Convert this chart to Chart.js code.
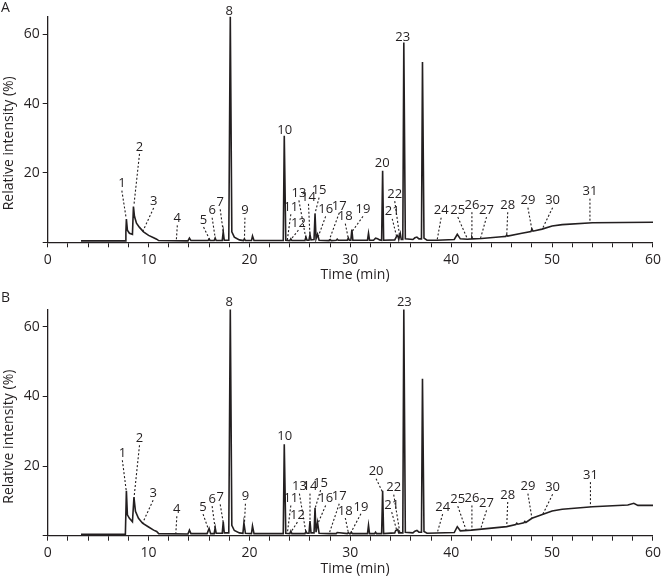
<!DOCTYPE html>
<html><head><meta charset="utf-8">
<script src="https://cdn.jsdelivr.net/npm/chart.js@4"></script>
<style>
html,body{margin:0;padding:0;background:#fff;}
#wrap{position:relative;width:665px;height:578px;overflow:hidden;}
canvas{position:absolute;left:0;}
</style></head><body>
<div id="wrap">
<canvas id="cA" width="665" height="285" style="top:0"></canvas>
<canvas id="cB" width="665" height="293" style="top:285px"></canvas>
</div>
<script>
// ---------- data (time in min, relative intensity in %) ----------
const timeA = [3.3, 7.7, 7.75, 7.8, 7.9, 8.1, 8.4, 8.5, 8.6, 8.8,
  9.1, 9.5, 10.0, 10.5, 10.8, 11.0, 13.9, 14.05, 14.2, 15.9,
  16.0, 16.1, 16.5, 16.6, 16.7, 17.3, 17.4, 17.5, 17.95, 18.1,
  18.25, 18.5, 19.0, 19.4, 19.5, 19.6, 20.2, 20.3, 20.45, 23.35,
  23.45, 23.6, 24.0, 24.1, 24.2, 25.5, 25.6, 25.7, 25.9, 26.0,
  26.1, 26.4, 26.5, 26.6, 26.75, 26.9, 27.9, 28.0, 28.1, 28.6,
  28.7, 28.8, 29.7, 29.8, 29.9, 30.05, 30.15, 30.25, 31.7, 31.8,
  31.9, 32.3, 32.5, 32.7, 32.9, 33.1, 33.2, 33.3, 34.4, 34.6,
  34.7, 34.8, 34.95, 35.05, 35.2, 35.3, 35.45, 36.2, 36.4, 36.6,
  36.8, 37.05, 37.15, 37.3, 37.6, 38.6, 40.3, 40.6, 40.9, 41.6,
  42.0, 42.05, 42.1, 43.0, 45.0, 45.4, 45.5, 45.6, 47.0, 47.9,
  48.0, 48.1, 49.0, 50.0, 51.0, 54.0, 60.0];
const signalA = [0.4, 0.4, 3.0, 6.7, 3.5, 2.6, 2.3, 10.3, 7.5, 5.5,
  4.3, 3.0, 2.0, 1.3, 0.9, 0.5, 0.4, 1.2, 0.5, 0.5,
  0.9, 0.5, 0.5, 1.2, 0.5, 0.5, 3.0, 0.6, 0.6, 65,
  3.0, 1.5, 0.7, 0.5, 1.0, 0.5, 0.5, 1.8, 0.5, 0.5,
  30.7, 0.6, 0.5, 1.0, 0.5, 0.5, 1.5, 0.6, 0.6, 2.2,
  0.7, 0.8, 8.3, 1.0, 2.3, 0.6, 0.5, 0.8, 0.5, 0.6,
  0.9, 0.6, 0.6, 1.2, 0.6, 0.6, 3.7, 0.6, 0.6, 2.6,
  0.6, 0.6, 1.2, 1.0, 0.7, 0.6, 20.6, 0.6, 0.7, 1.8,
  2.0, 0.8, 2.5, 0.8, 0.8, 57.6, 1.0, 0.8, 1.3, 1.5,
  1.0, 1.0, 52, 1.2, 0.6, 0.6, 0.8, 2.3, 1.0, 0.9,
  1.0, 1.4, 1.0, 1.1, 1.6, 1.7, 2.1, 1.8, 2.6, 3.1,
  3.8, 3.2, 3.8, 4.7, 5.1, 5.65, 5.8];

const timeB = [3.3, 7.7, 7.8, 7.9, 8.1, 8.4, 8.55, 8.7, 9.0, 9.4,
  10.0, 10.5, 10.8, 11.0, 13.9, 14.05, 14.2, 15.8, 16.0, 16.15,
  16.5, 16.6, 16.7, 17.3, 17.4, 17.5, 17.95, 18.1, 18.25, 18.5,
  19.0, 19.35, 19.45, 19.6, 20.2, 20.3, 20.45, 23.35, 23.45, 23.6,
  24.0, 24.1, 24.2, 25.5, 25.6, 25.7, 25.9, 26.0, 26.1, 26.4,
  26.5, 26.6, 26.75, 26.9, 27.9, 28.6, 28.7, 29.7, 29.8, 29.9,
  30.0, 30.1, 30.2, 31.7, 31.8, 31.9, 32.4, 32.5, 32.6, 33.1,
  33.2, 33.3, 34.4, 34.5, 34.7, 34.8, 35.2, 35.3, 35.45, 36.2,
  36.4, 36.6, 36.8, 37.05, 37.15, 37.3, 37.6, 40.3, 40.6, 40.9,
  42.0, 45.5, 46.4, 46.5, 46.6, 47.2, 47.3, 47.4, 48.0, 50.0,
  51.0, 54.0, 57.5, 58.1, 58.5, 60.0];
const signalB = [0.4, 0.4, 12.9, 6.0, 5.0, 4.0, 11.0, 7.0, 5.0, 3.6,
  2.5, 1.6, 1.2, 0.6, 0.5, 1.6, 0.6, 0.6, 2.1, 0.6,
  0.6, 2.3, 0.7, 0.7, 4.0, 0.8, 0.8, 65, 3.0, 1.5,
  0.8, 0.7, 3.7, 0.7, 0.6, 2.8, 0.6, 0.6, 26.3, 0.7,
  0.6, 1.3, 0.6, 0.6, 1.2, 0.7, 0.7, 4.2, 0.8, 0.8,
  8.0, 1.0, 3.8, 0.7, 0.6, 0.6, 0.9, 0.6, 0.9, 0.6,
  0.6, 1.0, 0.6, 0.6, 3.0, 0.6, 0.6, 1.0, 0.6, 0.6,
  12.9, 0.6, 0.8, 1.5, 1.8, 0.8, 0.8, 65, 1.0, 0.8,
  1.3, 1.5, 1.0, 1.0, 45.1, 1.2, 0.7, 0.9, 2.6, 1.4,
  1.6, 2.6, 3.2, 3.6, 3.3, 3.7, 4.1, 3.8, 5.0, 7.1,
  7.6, 8.3, 8.8, 9.3, 8.7, 8.7];

// peak numbering and label anchors (label at labelTime/labelLevel, leader to tipTime/tipLevel)
const peakNumbers = [1,2,3,4,5,6,7,8,9,10,11,12,13,14,15,16,17,18,19,20,21,22,23,24,25,26,27,28,29,30,31];
const labelTimeA  = [7.35,9.1,10.5,12.85,15.45,16.3,17.1,18.0,19.55,23.5,24.1,24.85,24.9,25.85,26.9,27.55,28.9,29.5,31.25,33.15,34.15,34.4,35.2,39.0,40.65,42.05,43.5,45.6,47.6,50.05,53.75];
const labelLevelA = [16.9,27.5,11.9,6.9,6.4,9.1,11.5,66.6,9.1,32.4,10.1,5.5,14.1,13.1,14.9,9.5,10.5,7.4,9.5,22.8,8.8,13.9,59.2,9.1,9.3,10.7,9.3,10.7,12,12,14.6];
const tipTimeA    = [7.78,8.55,9.4,12.75,16.05,16.6,17.4,null,19.5,null,23.75,24.1,25.6,26.0,26.5,26.8,27.9,29.8,30.15,null,34.6,34.9,null,38.6,41.6,42.05,42.9,45.5,48.0,49.05,53.75];
const tipLevelA   = [6.9,10.8,3.0,0.5,0.8,1.3,3.0,null,0.6,null,0.6,0.8,1.0,1.5,8.3,1.5,0.6,1.0,3.0,null,1.5,1.5,null,0.6,1.0,1.3,1.1,1.9,3.6,4.0,5.7];

const labelTimeB  = [7.4,9.1,10.45,12.8,15.4,16.3,17.1,18.0,19.6,23.5,24.1,24.75,24.95,26.0,27.05,27.55,28.9,29.5,31.05,32.55,34.1,34.3,35.35,39.15,40.65,42.05,43.5,45.6,47.6,50.05,53.8];
const labelLevelB = [23.7,28,12.2,7.6,8.2,10.5,11,67.2,11.2,28.6,10.7,5.9,14.1,14.1,15.1,10.7,11.2,7.1,8.3,18.4,8.8,13.8,67.2,8.2,10.5,10.7,9.3,11.7,14.1,13.9,17.4];
const tipTimeB    = [7.8,8.55,9.4,12.7,16.0,16.6,17.4,null,19.5,null,23.75,24.1,25.6,26.0,26.5,26.8,27.9,29.8,30.05,33.15,34.6,34.9,null,38.6,41.5,42.05,42.9,45.5,48.0,49.05,53.8];
const tipLevelB   = [12.6,10.7,3.6,0.6,1.3,2.0,3.8,null,3.5,null,0.6,1.0,0.8,4.0,7.8,3.6,0.6,0.9,0.9,12.8,1.5,1.0,null,0.7,1.4,1.6,1.8,2.6,5.0,6.0,8.3];

const xLabelTicks = [0,10,20,30,40,50,60];
const yLabelTicks = [20,40,60];

// ---------- drawing ----------
const INK = '#231f20';
const FONT = '"Open Sans", "Liberation Sans", sans-serif';

const annot = {
  id: 'annot',
  afterDraw(chart, args, o) {
    const ctx = chart.ctx, x = chart.scales.x, y = chart.scales.y;
    ctx.save();
    ctx.fillStyle = INK; ctx.strokeStyle = INK;
    ctx.font = '13px ' + FONT;
    ctx.textAlign = 'center'; ctx.textBaseline = 'middle';
    peakNumbers.forEach((n, i) => {
      const lx = x.getPixelForValue(o.lt[i]), ly = y.getPixelForValue(o.lv[i]);
      ctx.fillText(String(n), lx, ly);
      if (o.tt[i] !== null) {
        ctx.setLineDash([2, 2]); ctx.lineWidth = 1.1;
        ctx.beginPath();
        ctx.moveTo(lx, ly + 7);
        ctx.lineTo(x.getPixelForValue(o.tt[i]), y.getPixelForValue(o.tv[i]));
        ctx.stroke();
      }
    });
    ctx.setLineDash([]);
    ctx.font = '14px ' + FONT;
    ctx.textAlign = 'left';
    ctx.fillText(o.letter, 1, o.letterY);
    ctx.textAlign = 'center';
    ctx.fillText('Time (min)', 355, y.bottom + 33);
    ctx.translate(9, y.bottom - 99); ctx.rotate(-Math.PI / 2);
    ctx.fillText('Relative intensity (%)', 0, 0);
    ctx.restore();
  }
};

function makeChart(id, times, signal, ann, topPad, axisBottom) {
  const canvas = document.getElementById(id);
  const H = canvas.height;
  return new Chart(canvas, {
    type: 'line',
    data: { datasets: [{
      data: times.map((t, i) => ({ x: t, y: signal[i] })),
      borderColor: INK, borderWidth: 1.6, pointRadius: 0, tension: 0, fill: false, clip: false
    }]},
    options: {
      responsive: false, animation: false, devicePixelRatio: 1,
      layout: { padding: { left: 0, right: 10.3, top: topPad, bottom: 0 } },
      plugins: { legend: { display: false }, tooltip: { enabled: false }, annot: ann },
      scales: {
        x: {
          type: 'linear', min: 0, max: 60,
          afterFit: s => { s.height = H - axisBottom; },
          afterBuildTicks: s => { const t = []; for (let v = 0; v <= 60; v += 2) t.push({ value: v }); s.ticks = t; },
          ticks: { autoSkip: false, maxRotation: 0, padding: 4, color: INK, font: { family: FONT, size: 14 },
                   callback: v => xLabelTicks.includes(v) ? String(v) : '' },
          grid: { display: true, drawOnChartArea: false, drawTicks: true, tickLength: 5, color: INK, lineWidth: 1 },
          border: { display: true, color: INK, width: 1.3 }
        },
        y: {
          type: 'linear', min: 0, max: 65,
          afterFit: s => { s.width = 47.7; },
          afterBuildTicks: s => { s.ticks = [0].concat(yLabelTicks).map(v => ({ value: v })); },
          ticks: { padding: 3, color: INK, font: { family: FONT, size: 14 },
                   callback: v => yLabelTicks.includes(v) ? String(v) : '' },
          grid: { display: true, drawOnChartArea: false, drawTicks: true, tickLength: 5, color: INK, lineWidth: 1 },
          border: { display: true, color: INK, width: 1.3 }
        }
      }
    },
    plugins: [annot]
  });
}

makeChart('cA', timeA, signalA,
  { lt: labelTimeA, lv: labelLevelA, tt: tipTimeA, tv: tipLevelA, letter: 'A', letterY: 8 }, 16.8, 242.3);
makeChart('cB', timeB, signalB,
  { lt: labelTimeB, lv: labelLevelB, tt: tipTimeB, tv: tipLevelB, letter: 'B', letterY: 13 }, 24.5, 250.7);
</script>
</body></html>
